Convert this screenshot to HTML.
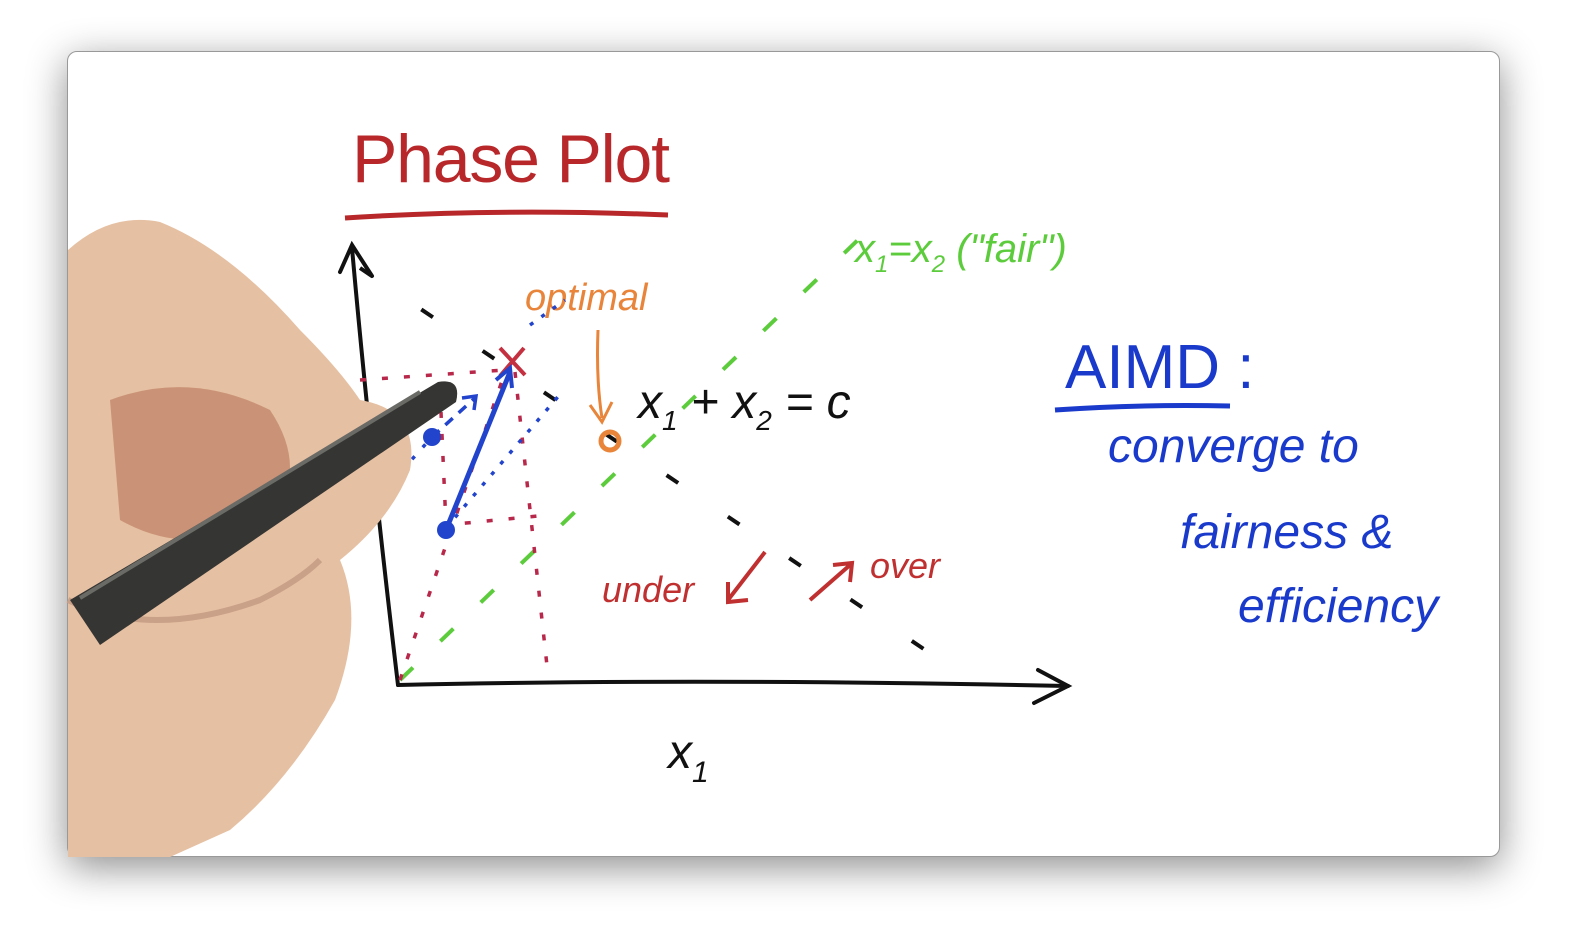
<!DOCTYPE html>
<html><head><meta charset="utf-8"><style>
html,body{margin:0;padding:0;background:#fff;width:1576px;height:946px;overflow:hidden}
#win{position:absolute;left:67px;top:51px;width:1433px;height:806px;background:#fff;border-radius:10px;box-shadow:0 10px 40px rgba(0,0,0,0.45);border:1px solid #999;overflow:hidden;box-sizing:border-box}
svg{position:absolute;left:0;top:0}
text{font-family:"Liberation Sans",sans-serif}
</style></head><body>
<div id="win"></div>
<svg width="1576" height="946">
<g>
<text x="352" y="182" font-size="68" fill="#b8282a" textLength="318">Phase Plot</text>
<path d="M345 218 Q500 208 668 215" stroke="#b8282a" stroke-width="5" fill="none"/>
</g>
<g stroke="#111" stroke-width="4" fill="none" stroke-linecap="round">
<path d="M398 685 Q370 450 352 248"/>
<path d="M340 272 L352 245 L372 276"/>
<path d="M398 685 Q700 678 1068 686"/>
<path d="M1038 670 L1068 686 L1034 703"/>
</g>
<text x="668" y="768" font-size="48" fill="#111" font-style="italic">x<tspan font-size="30" dy="14">1</tspan></text>
<text x="200" y="470" font-size="44" fill="#111" font-style="italic">x<tspan font-size="28" dy="12">2</tspan></text>
<line x1="360" y1="268" x2="940" y2="660" stroke="#111" stroke-width="4" stroke-dasharray="14 60"/>
<line x1="400" y1="680" x2="860" y2="238" stroke="#5ccc3c" stroke-width="4" stroke-dasharray="18 38"/>
<text x="855" y="262" font-size="40" fill="#5ccc3c" font-style="italic">x<tspan font-size="24" dy="10">1</tspan><tspan dy="-10">=x</tspan><tspan font-size="24" dy="10">2</tspan><tspan dy="-10"> ("fair")</tspan></text>
<text x="525" y="310" font-size="38" fill="#e8853a" font-style="italic">optimal</text>
<path d="M598 330 Q596 380 602 418 M590 405 L602 422 L612 402" stroke="#e8853a" stroke-width="3" fill="none"/>
<circle cx="610" cy="441" r="9" fill="none" stroke="#e8853a" stroke-width="5"/>
<path d="M500 348 L525 375 M524 348 L500 376" stroke="#c43040" stroke-width="4"/>
<g stroke="#b8284a" stroke-width="3.5" fill="none" stroke-dasharray="6 16">
<path d="M360 380 L505 370"/><path d="M515 372 L548 675"/><path d="M400 680 L505 372"/><path d="M440 390 L446 525 L548 515"/>
</g>
<g stroke="#2244cc" stroke-width="3.5" fill="none">
<path d="M446 530 L510 372" stroke-width="5"/>
<path d="M496 380 L510 368 L512 388" stroke-width="4"/>
<path d="M432 437 L475 398" stroke-dasharray="10 8"/>
<path d="M462 398 L476 396 L474 410"/>
<path d="M446 528 L562 392" stroke-dasharray="4 10"/>
<path d="M380 495 L432 437" stroke-dasharray="4 12"/>
<path d="M530 325 L565 300" stroke-dasharray="4 10"/>
</g>
<circle cx="432" cy="437" r="9" fill="#2244cc"/>
<circle cx="446" cy="530" r="9" fill="#2244cc"/>
<text x="638" y="418" font-size="48" fill="#111" font-style="italic">x<tspan font-size="28" dy="12">1</tspan><tspan dy="-12"> + x</tspan><tspan font-size="28" dy="12">2</tspan><tspan dy="-12"> = c</tspan></text>
<text x="602" y="602" font-size="36" fill="#c03030" font-style="italic">under</text>
<path d="M765 552 L728 600 M728 582 L728 602 L748 600" stroke="#c03030" stroke-width="4" fill="none"/>
<path d="M810 600 L850 565 M833 565 L852 563 L850 582" stroke="#c03030" stroke-width="4" fill="none"/>
<text x="870" y="578" font-size="36" fill="#c03030" font-style="italic">over</text>
<text x="1065" y="388" font-size="62" fill="#1a3acc">AIMD :</text>
<path d="M1055 410 Q1140 404 1230 406" stroke="#1a3acc" stroke-width="5" fill="none"/>
<text x="1108" y="462" font-size="48" fill="#1a3acc" font-style="italic">converge to</text>
<text x="1180" y="548" font-size="48" fill="#1a3acc" font-style="italic">fairness &amp;</text>
<text x="1238" y="622" font-size="48" fill="#1a3acc" font-style="italic">efficiency</text>
<g>
<path d="M68 250 Q110 212 160 222 Q230 250 300 330 Q340 370 360 400 Q420 410 410 470 Q390 520 340 560 Q365 620 335 700 Q290 780 230 830 L170 857 L68 857 Z" fill="#e6c0a2"/>
<path d="M110 400 Q190 370 270 410 Q310 470 270 520 Q190 560 120 520 Z" fill="#c08468" opacity="0.75"/>
<path d="M68 600 Q150 640 260 600 Q300 580 320 560" stroke="#c9a088" stroke-width="6" fill="none"/>
</g>
<path d="M70 600 L438 382 Q462 378 456 402 L100 645 Z" fill="#353533"/>
<path d="M80 598 L420 392" stroke="#6a6a66" stroke-width="4"/>
</svg>
</body></html>
